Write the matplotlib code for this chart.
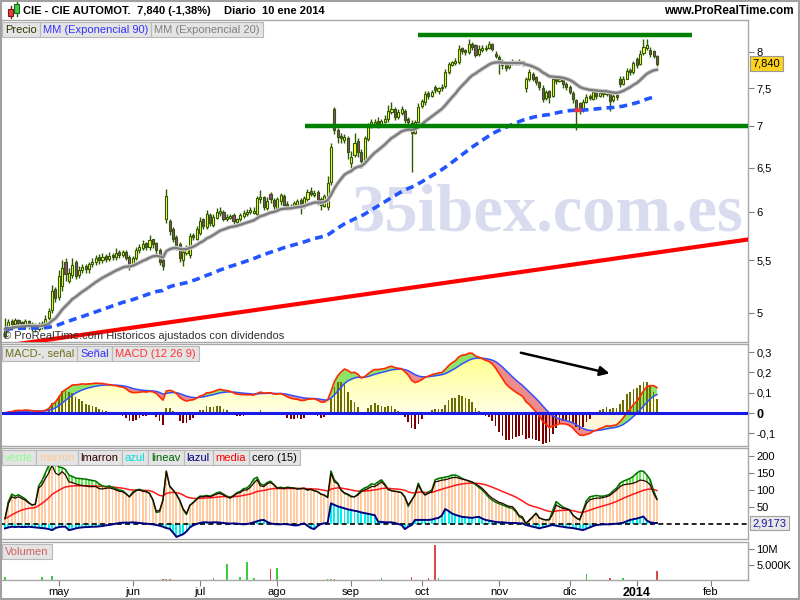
import numpy as np
import pandas as pd
import matplotlib
matplotlib.use("Agg")
import matplotlib.pyplot as plt
from matplotlib.patches import Rectangle
from matplotlib.ticker import NullLocator
from matplotlib.path import Path
from matplotlib.colors import LinearSegmentedColormap
from matplotlib.transforms import blended_transform_factory as btf

plt.rcParams['font.family'] = ['Liberation Sans', 'DejaVu Sans']

# ---------------- data ----------------
title_name = "CIE - CIE AUTOMOT."
title_price = "7,840 (-1,38%)"
title_period = "Diario  10 ene 2014"

opens = [
    4.80, 4.86, 4.93, 4.90, 4.94, 4.92, 4.88, 4.93, 4.90, 4.89,
    4.86, 4.88, 4.90, 4.96, 5.03, 5.22, 5.15, 5.25, 5.48, 5.30,
    5.36, 5.48, 5.36, 5.40, 5.44, 5.41, 5.46, 5.48, 5.53, 5.50,
    5.54, 5.51, 5.55, 5.53, 5.58, 5.55, 5.58, 5.53, 5.46, 5.52,
    5.60, 5.62, 5.67, 5.63, 5.71, 5.67, 5.60, 5.50, 5.93, 5.90,
    5.82, 5.74, 5.66, 5.50, 5.57, 5.55, 5.76, 5.72, 5.78, 5.92,
    5.84, 5.97, 5.86, 5.94, 5.99, 6.00, 5.92, 5.94, 5.97, 5.89,
    5.93, 5.96, 5.98, 6.00, 5.99, 5.98, 6.14, 6.16, 6.04, 6.20,
    6.13, 6.04, 6.12, 6.18, 6.09, 6.05, 6.06, 6.08, 6.13, 6.07,
    6.14, 6.23, 6.19, 6.22, 6.14, 6.07, 6.05, 6.33, 7.23, 6.95,
    6.88, 6.83, 6.85, 6.55, 6.65, 6.82, 6.68, 6.58, 6.84, 7.00,
    7.03, 7.07, 7.01, 7.06, 7.09, 7.19, 7.23, 7.12, 7.17, 7.20,
    7.09, 7.04, 6.92, 7.06, 7.26, 7.31, 7.44, 7.40, 7.52, 7.46,
    7.50, 7.53, 7.72, 7.82, 7.85, 7.86, 8.06, 8.03, 8.00, 8.12,
    8.10, 7.97, 8.04, 8.05, 8.07, 8.12, 7.98, 7.94, 7.86, 7.82,
    7.79, 7.84, 7.87, 7.85, 7.87, 7.50, 7.62, 7.70, 7.65, 7.58,
    7.50, 7.37, 7.46, 7.40, 7.62, 7.60, 7.62, 7.56, 7.52, 7.44,
    7.34, 7.30, 7.21, 7.32, 7.39, 7.36, 7.45, 7.40, 7.44, 7.42,
    7.45, 7.34, 7.41, 7.63, 7.56, 7.63, 7.75, 7.72, 7.90, 7.83,
    7.99, 8.07, 8.04, 8.02, 7.95]

closes = [
    4.86, 4.92, 4.90, 4.94, 4.91, 4.89, 4.93, 4.90, 4.88, 4.87,
    4.89, 4.91, 4.95, 5.02, 5.20, 5.14, 5.35, 5.42, 5.37, 5.38,
    5.45, 5.35, 5.40, 5.43, 5.41, 5.46, 5.48, 5.52, 5.50, 5.53,
    5.51, 5.54, 5.53, 5.57, 5.55, 5.58, 5.52, 5.45, 5.52, 5.60,
    5.63, 5.66, 5.63, 5.70, 5.66, 5.60, 5.48, 5.44, 6.18, 5.80,
    5.72, 5.65, 5.52, 5.58, 5.62, 5.75, 5.74, 5.82, 5.90, 5.85,
    5.98, 5.88, 5.95, 6.00, 6.01, 5.93, 5.95, 5.96, 5.90, 5.92,
    5.97, 5.99, 6.00, 6.02, 6.01, 6.15, 6.16, 6.05, 6.12, 6.14,
    6.06, 6.14, 6.19, 6.08, 6.06, 6.07, 6.10, 6.12, 6.08, 6.15,
    6.22, 6.20, 6.21, 6.12, 6.08, 6.17, 6.32, 6.75, 6.95, 6.87,
    6.85, 6.87, 6.68, 6.62, 6.80, 6.68, 6.58, 6.85, 7.00, 7.05,
    7.06, 7.00, 7.07, 7.10, 7.20, 7.22, 7.12, 7.18, 7.22, 7.08,
    7.05, 6.92, 7.05, 7.25, 7.33, 7.42, 7.40, 7.45, 7.47, 7.50,
    7.52, 7.72, 7.83, 7.86, 7.88, 8.05, 8.02, 8.00, 8.12, 8.08,
    7.96, 8.05, 8.06, 8.07, 8.12, 8.05, 7.95, 7.86, 7.82, 7.78,
    7.84, 7.86, 7.85, 7.86, 7.84, 7.62, 7.72, 7.63, 7.58, 7.52,
    7.36, 7.45, 7.38, 7.62, 7.60, 7.63, 7.55, 7.52, 7.45, 7.35,
    7.22, 7.20, 7.32, 7.38, 7.37, 7.45, 7.40, 7.43, 7.42, 7.45,
    7.33, 7.40, 7.38, 7.55, 7.62, 7.74, 7.72, 7.85, 7.82, 7.98,
    8.08, 8.10, 7.97, 7.95, 7.84]

highs = [
    4.96, 4.95, 4.95, 4.96, 4.95, 4.93, 4.95, 4.94, 4.92, 4.91,
    4.92, 4.93, 4.98, 5.05, 5.26, 5.24, 5.40, 5.50, 5.52, 5.42,
    5.52, 5.50, 5.44, 5.46, 5.46, 5.48, 5.52, 5.55, 5.56, 5.57,
    5.56, 5.58, 5.57, 5.62, 5.60, 5.60, 5.60, 5.55, 5.54, 5.63,
    5.66, 5.70, 5.68, 5.76, 5.72, 5.68, 5.62, 5.52, 6.25, 5.93,
    5.84, 5.76, 5.68, 5.62, 5.65, 5.78, 5.78, 5.85, 5.95, 5.94,
    6.02, 5.99, 5.98, 6.04, 6.05, 6.02, 5.98, 5.98, 5.99, 5.94,
    5.99, 6.02, 6.03, 6.05, 6.05, 6.18, 6.24, 6.18, 6.16, 6.22,
    6.15, 6.16, 6.21, 6.20, 6.12, 6.09, 6.12, 6.14, 6.15, 6.18,
    6.25, 6.28, 6.24, 6.24, 6.16, 6.20, 6.40, 6.80, 7.25, 6.98,
    6.92, 6.90, 6.88, 6.70, 6.92, 6.85, 6.72, 6.88, 7.04, 7.10,
    7.10, 7.12, 7.10, 7.14, 7.28, 7.32, 7.25, 7.22, 7.26, 7.22,
    7.12, 7.08, 7.08, 7.30, 7.36, 7.46, 7.46, 7.48, 7.54, 7.52,
    7.55, 7.76, 7.86, 7.88, 7.92, 8.10, 8.08, 8.05, 8.20, 8.15,
    8.12, 8.10, 8.10, 8.10, 8.16, 8.14, 8.02, 7.96, 7.90, 7.84,
    7.88, 7.90, 7.88, 7.90, 7.88, 7.65, 7.76, 7.72, 7.66, 7.60,
    7.54, 7.48, 7.48, 7.66, 7.66, 7.66, 7.64, 7.58, 7.54, 7.46,
    7.36, 7.32, 7.35, 7.42, 7.42, 7.48, 7.48, 7.46, 7.46, 7.48,
    7.47, 7.45, 7.44, 7.66, 7.66, 7.78, 7.78, 7.88, 7.94, 8.04,
    8.20, 8.20, 8.08, 8.04, 7.96]

lows = [
    4.78, 4.84, 4.86, 4.88, 4.88, 4.86, 4.87, 4.86, 4.84, 4.83,
    4.84, 4.86, 4.88, 4.94, 5.00, 5.10, 5.12, 5.20, 5.30, 5.28,
    5.33, 5.32, 5.33, 5.38, 5.38, 5.38, 5.43, 5.45, 5.46, 5.47,
    5.48, 5.49, 5.50, 5.50, 5.52, 5.53, 5.50, 5.40, 5.44, 5.50,
    5.57, 5.60, 5.60, 5.60, 5.62, 5.55, 5.45, 5.40, 5.88, 5.76,
    5.68, 5.60, 5.48, 5.44, 5.55, 5.52, 5.70, 5.70, 5.76, 5.82,
    5.82, 5.85, 5.84, 5.92, 5.96, 5.90, 5.90, 5.92, 5.86, 5.86,
    5.90, 5.94, 5.96, 5.98, 5.98, 5.96, 6.10, 6.02, 6.02, 6.10,
    6.02, 6.00, 6.08, 6.06, 6.03, 6.03, 6.04, 6.06, 5.98, 6.04,
    6.12, 6.18, 6.16, 6.08, 6.02, 6.05, 6.02, 6.30, 6.90, 6.80,
    6.80, 6.80, 6.60, 6.50, 6.62, 6.62, 6.50, 6.56, 6.82, 6.98,
    7.00, 6.98, 7.00, 7.04, 7.06, 7.16, 7.08, 7.10, 7.15, 7.04,
    7.00, 6.45, 6.90, 7.04, 7.24, 7.28, 7.36, 7.38, 7.44, 7.42,
    7.46, 7.50, 7.70, 7.80, 7.82, 7.84, 7.98, 7.96, 7.98, 8.04,
    7.94, 7.95, 8.00, 8.02, 8.05, 8.02, 7.92, 7.70, 7.76, 7.74,
    7.76, 7.82, 7.82, 7.82, 7.80, 7.45, 7.60, 7.60, 7.54, 7.48,
    7.32, 7.34, 7.30, 7.38, 7.56, 7.58, 7.50, 7.48, 7.42, 7.30,
    6.95, 7.16, 7.18, 7.30, 7.34, 7.34, 7.36, 7.38, 7.38, 7.40,
    7.20, 7.32, 7.34, 7.52, 7.54, 7.62, 7.68, 7.70, 7.78, 7.82,
    7.96, 8.04, 7.94, 7.92, 7.80]

volumes_m = [
    1.0, 0.1, 0.1, 0.1, 0.1, 0.1, 0.1, 0.1, 0.1, 0.1,
    0.1, 1.0, 0.1, 0.1, 1.2, 0.1, 0.1, 0.1, 0.1, 0.1,
    0.1, 0.1, 0.1, 0.1, 0.1, 0.1, 0.1, 0.1, 0.1, 0.1,
    0.1, 0.1, 0.1, 0.1, 0.1, 0.1, 0.1, 0.1, 0.1, 0.1,
    0.1, 0.1, 0.1, 0.1, 0.1, 0.1, 0.1, 0.2, 0.4, 0.2,
    0.1, 0.1, 0.1, 0.1, 0.1, 0.1, 0.1, 0.1, 0.1, 0.1,
    0.1, 0.1, 0.8, 0.1, 0.1, 0.1, 5.2, 0.1, 0.1, 0.1,
    1.0, 0.1, 5.9, 0.1, 0.8, 0.1, 0.1, 0.1, 0.1, 3.5,
    0.1, 4.0, 0.1, 0.1, 0.1, 0.1, 0.1, 0.1, 0.1, 0.1,
    0.1, 0.1, 0.1, 0.1, 0.1, 0.1, 0.2, 0.3, 0.2, 0.1,
    0.1, 0.1, 0.1, 0.1, 0.1, 0.1, 0.1, 0.1, 0.1, 0.1,
    0.1, 0.1, 0.8, 0.1, 0.1, 0.1, 0.1, 0.1, 0.1, 0.1,
    0.1, 1.0, 0.1, 0.1, 0.1, 0.1, 0.8, 0.1, 11.3, 0.8,
    0.1, 0.1, 0.1, 0.1, 0.1, 0.1, 0.1, 0.1, 0.1, 0.1,
    0.1, 0.1, 0.1, 0.1, 0.1, 0.1, 0.1, 0.1, 0.1, 0.1,
    0.1, 0.1, 0.1, 0.1, 0.1, 0.1, 0.1, 0.1, 0.1, 0.1,
    0.1, 0.1, 0.1, 0.1, 0.1, 0.1, 0.1, 0.1, 0.1, 0.1,
    0.1, 0.1, 0.1, 2.0, 0.1, 0.1, 0.1, 0.1, 0.1, 0.1,
    0.8, 0.1, 0.1, 0.1, 0.7, 0.1, 0.1, 0.1, 0.1, 0.1,
    0.1, 0.1, 0.1, 0.1, 3.0]

lmarron = [
    16, 60, 80, 76, 80, 75, 70, 62, 56, 58,
    105, 115, 134, 150, 173, 150, 144, 154, 144, 124,
    122, 118, 115, 113, 112, 110, 110, 110, 104, 103,
    105, 106, 104, 100, 96, 95, 88, 80, 90, 98,
    100, 96, 95, 90, 72, 38, 40, 70, 154, 110,
    100, 88, 70, 45, 31, 55, 62, 72, 80, 80,
    82, 80, 84, 88, 90, 85, 80, 76, 82, 90,
    92, 100, 100, 108, 120, 130, 112, 110, 118, 122,
    115, 105, 106, 104, 107, 106, 105, 103, 104, 105,
    100, 102, 98, 95, 88, 85, 78, 149, 124, 118,
    100, 92, 88, 82, 80, 85, 95, 100, 104, 110,
    110, 116, 124, 114, 102, 98, 96, 95, 92, 80,
    56, 70, 85, 115, 95, 85, 90, 95, 124, 126,
    129, 130, 133, 136, 137, 135, 132, 130, 127, 124,
    118, 112, 105, 95, 84, 76, 70, 64, 61, 56,
    52, 51, 40, 25, 21, 2, 12, 21, 31, 18,
    14, 12, 12, 30, 56, 50, 46, 44, 41, 26,
    18, 12, 36, 60, 71, 74, 76, 76, 78, 80,
    84, 92, 100, 110, 115, 117, 118, 120, 124, 129,
    128, 124, 115, 90, 72]

lineav = [
    16, 66, 88, 82, 86, 80, 74, 64, 56, 58,
    112, 128, 150, 172, 185, 176, 168, 166, 160, 144,
    140, 135, 134, 133, 132, 130, 128, 126, 118, 112,
    110, 112, 108, 104, 100, 98, 90, 80, 94, 100,
    102, 98, 96, 90, 70, 34, 36, 72, 156, 112,
    100, 86, 68, 42, 28, 55, 64, 74, 82, 82,
    84, 82, 86, 92, 94, 88, 82, 78, 84, 92,
    96, 104, 106, 116, 132, 138, 118, 114, 122, 126,
    116, 106, 108, 106, 108, 107, 106, 104, 104, 105,
    100, 102, 98, 95, 88, 85, 78, 156, 130, 120,
    100, 90, 86, 80, 80, 88, 100, 106, 110, 118,
    116, 124, 130, 118, 102, 98, 96, 95, 92, 78,
    52, 70, 88, 120, 98, 86, 94, 100, 130, 134,
    136, 138, 140, 144, 144, 140, 134, 130, 126, 122,
    116, 108, 100, 90, 78, 70, 64, 60, 56, 52,
    48, 46, 36, 22, 16, 0, 10, 20, 32, 18,
    14, 12, 14, 40, 66, 58, 50, 46, 42, 26,
    18, 12, 40, 68, 80, 82, 84, 82, 82, 84,
    88, 98, 106, 120, 126, 130, 134, 140, 150, 156,
    155, 144, 130, 98, 74]

lazul = [
    -13, -10, -8, -9, -8, -9, -9, -8, -9, -10,
    -11, -12, -13, -15, -18, -12, -9, -8, -8, -18,
    -16, -13, -11, -10, -9, -9, -8, -8, -7, -6,
    -4, -3, -1, 1, 3, 4, 4, 4, 5, 4,
    3, 2, 1, 0, -1, -3, -5, -8, -12, -14,
    -25, -38, -34, -30, -22, -10, -4, 0, 3, 5,
    5, 4, 5, 5, 4, 3, 2, 1, 2, 1,
    0, -1, 0, 2, 5, 8, 11, 12, 6, 2,
    0, -1, -1, 0, -1, -2, -4, -4, -1, 2,
    -5, -12, -15, -6, 0, 2, 3, 61, 56, 52,
    49, 46, 43, 41, 39, 37, 34, 32, 30, 28,
    26, 7, 6, 5, 5, 5, 3, 0, -3, -15,
    -8, -3, 12, 12, 12, 12, 12, 13, 16, 18,
    25, 44, 38, 31, 27, 24, 21, 20, 19, 18,
    20, 21, 16, 12, 10, 8, 6, 5, 5, 4,
    3, 3, 3, 2, 2, -3, -5, -8, -10, -13,
    -10, -8, -5, -3, -5, -7, -8, -10, -11, -12,
    -14, -16, -18, -14, -10, -6, -3, -2, -1, -1,
    -1, 0, 1, 2, 4, 8, 12, 14, 16, 19,
    22, 10, 5, 3, 2.9173]

month_labels = ['may', 'jun', 'jul', 'ago', 'sep', 'oct', 'nov', 'dic', '2014', 'feb']
price_ticks = [5, 5.5, 6, 6.5, 7, 7.5, 8]
price_ticklabels = ['5', '5,5', '6', '6,5', '7', '7,5', '8']
macd_ticks = [-0.1, 0, 0.1, 0.2, 0.3]
macd_ticklabels = ['-0,1', '0', '0,1', '0,2', '0,3']
ind_ticks = [50, 100, 150, 200]
vol_ticks = [5, 10]
vol_ticklabels = ['5.000K', '10M']

# drawn annotations (bar index, price)
resistance = [(123, 8.25), (204.5, 8.25)]
support = [(89.3, 7.01), (221.1, 7.01)]
trend = [(-1.5, 4.708), (221.1, 5.71)]
macd_arrow = [(152.7, 0.30), (180.7, 0.192)]

# ---------------- derived series ----------------
o = np.array(opens); c = np.array(closes)
h = np.maximum(np.array(highs), np.maximum(o, c))
l = np.minimum(np.array(lows), np.minimum(o, c))
n = len(c)
idx = np.arange(n)
cs = pd.Series(c)
ema20 = cs.ewm(span=20, adjust=False).mean().values
ema90 = cs.ewm(span=90, adjust=False).mean().values
macd = (cs.ewm(span=12, adjust=False).mean() - cs.ewm(span=26, adjust=False).mean()).values
signal = pd.Series(macd).ewm(span=9, adjust=False).mean().values
hist = 2 * (macd - signal)
lm = np.array(lmarron, float); lv = np.array(lineav, float); lz = np.array(lazul, float)
media = pd.Series(lm).ewm(span=18, adjust=False).mean().values
vol = np.array(volumes_m)

days = pd.bdate_range('2013-04-09', '2014-02-28')
hol = pd.to_datetime(['2013-05-01', '2013-12-25', '2013-12-26', '2014-01-01'])
days = days[~days.isin(hol)]
per = days.to_period('M')
month_idx = [int(np.argmax(per == p)) for p in per.unique()[1:]]

# ---------------- figure ----------------
W, H = 800, 600
fig = plt.figure(figsize=(8, 6), dpi=100)
fig.patch.set_facecolor('white')

def pax(x0, y0, x1, y1):
    return fig.add_axes([x0 / W, 1 - y1 / H, (x1 - x0) / W, (y1 - y0) / H])

XL = (-1.5, 221.1)
GRAY = '#A8A8A8'

def style(ax):
    ax.set_xlim(*XL)
    for s in ax.spines.values():
        s.set_color(GRAY); s.set_linewidth(1)
    ax.yaxis.tick_right()
    ax.tick_params(axis='y', which='major', direction='out', length=4, width=0.8,
                   color='#808080', labelsize=8, pad=2, labelcolor='black')
    ax.tick_params(axis='x', which='both', bottom=False, labelbottom=False)
    ax.yaxis.set_minor_locator(NullLocator())
    ax.xaxis.set_minor_locator(NullLocator())

# ---- price panel ----
axp = pax(0, 20, 748, 342)
axp.set_yscale('log')
axp.set_ylim(4.747, 8.48)
style(axp)
axp.set_yticks(price_ticks)
axp.set_yticklabels(price_ticklabels)
axp.yaxis.set_minor_locator(NullLocator())

axp.text(0.731, 0.396, '35ibex.com.es', transform=axp.transAxes, ha='center', va='center',
         fontsize=48, family='Liberation Serif', fontweight='bold', color='#D9DCEF', zorder=0.5)

up = c >= o
body_col = np.where(up, '#FFFF44', '#9C3C9C')
axp.vlines(idx, l, h, color='#2E5A00', lw=1, zorder=3)
axp.bar(idx, np.maximum(np.abs(c - o), 0.006), bottom=np.minimum(o, c), width=0.62,
        color=body_col, edgecolor='#2E5A00', linewidth=0.8, zorder=4)

axp.plot(idx, ema20, color='#D2D2D2', lw=3.2, zorder=5, solid_capstyle='round')
axp.plot(idx, ema20, color='#7C7C7C', lw=1.7, zorder=5.1)
axp.plot(idx, ema90, color='#2255FF', lw=2.6, dashes=(2.2, 1.4), zorder=5)
dec = np.diff(ema90) < 0
for k in np.where(dec)[0]:
    axp.plot([k, k + 1], [ema90[k], ema90[k + 1]], color='#FF3030', lw=2.6, zorder=5.2)

(rx0, ry0), (rx1, ry1) = resistance
axp.plot([rx0, rx1], [ry0, ry1], color='#008000', lw=3.2, zorder=6, solid_capstyle='butt')
(sx0, sy0), (sx1, sy1) = support
axp.plot([sx0, sx1], [sy0, sy1], color='#008000', lw=3.2, zorder=6, solid_capstyle='butt')
(tx0, ty0), (tx1, ty1) = trend
axp.plot([tx0, tx1], [ty0, ty1], color='#FF0000', lw=3.0, zorder=6)

axp.text(0.004, 0.02, '© ProRealTime.com Historicos ajustados con dividendos', transform=axp.transAxes,
         ha='left', va='center', fontsize=8, color='#303030', zorder=10)

axp.text(1.006, c[-1], f'{c[-1]:.3f}'.replace('.', ','), transform=btf(axp.transAxes, axp.transData),
         ha='left', va='center', fontsize=8, color='black', zorder=12, clip_on=False,
         bbox=dict(boxstyle='square,pad=0.22', fc='#FFD21E', ec='#999999', lw=0.8))

# ---- MACD panel ----
axm = pax(0, 344, 748, 446)
axm.set_ylim(-0.1626, 0.340)
style(axm)
axm.set_yticks(macd_ticks)
axm.set_yticklabels(macd_ticklabels)
for t in axm.get_yticklabels():
    if t.get_text() == '0':
        t.set_fontweight('bold'); t.set_fontsize(9)

low_pos = np.clip(np.minimum(macd, signal), 0, None)
poly = axm.fill_between(idx, 0, low_pos, color='none', lw=0)
cmap = LinearSegmentedColormap.from_list('yl', ['#FFFFE6', '#FFFF78'])
grad = np.linspace(0, 1, 256).reshape(-1, 1)
im = axm.imshow(grad, extent=[XL[0], XL[1], 0, 0.34], origin='lower', aspect='auto',
                cmap=cmap, zorder=1, interpolation='bilinear')
im.set_clip_path(Path.make_compound_path(*poly.get_paths()), transform=axm.transData)
high_neg = np.clip(np.maximum(macd, signal), None, 0)
axm.fill_between(idx, 0, high_neg, color='#FFF6DA', lw=0, zorder=1)
axm.fill_between(idx, signal, macd, where=macd >= signal, interpolate=True, color='#8EE266', lw=0, zorder=2)
axm.fill_between(idx, signal, macd, where=macd < signal, interpolate=True, color='#EC8C8C', lw=0, zorder=2)
hcol = np.where(hist >= 0, '#6E6E00', '#7A0000')
axm.bar(idx, hist, width=0.5, color=hcol, zorder=3)
axm.plot(idx, signal, color='#3050FF', lw=1.1, zorder=4)
axm.plot(idx, macd, color='#FF2A00', lw=1.2, zorder=4)
axm.axhline(0, color='#1A1AE6', lw=2.2, zorder=5)
axm.set_xlim(*XL)
(ax0, ay0), (ax1, ay1) = macd_arrow
axm.annotate('', xy=(ax1, ay1), xytext=(ax0, ay0),
             arrowprops=dict(arrowstyle='-|>', color='black', lw=1.8, mutation_scale=14), zorder=8)

# ---- custom indicator panel ----
axi = pax(0, 448, 748, 539)
axi.set_ylim(-44.1, 223.5)
style(axi)
axi.set_yticks(ind_ticks)
axi.set_yticklabels([str(v) for v in ind_ticks])
axi.bar(idx, lm, width=0.55, color='#FFCBA0', zorder=1)
gmask = lv > lm
axi.bar(idx[gmask], (lv - lm)[gmask], bottom=lm[gmask], width=0.55, color='#5EE84A', zorder=1.5)
axi.bar(idx, lz, width=0.55, color='#00F0F0', zorder=1.5)
axi.axhline(0, color='black', lw=1.2, dashes=(3, 2), zorder=2)
axi.plot(idx, lz, color='#000080', lw=1.4, zorder=3)
axi.plot(idx, media, color='#FF1A1A', lw=1.1, zorder=3)
axi.plot(idx, lm, color='#300000', lw=0.9, zorder=3.2)
axi.plot(idx, lv, color='#006E00', lw=1.1, zorder=3.1)
axi.text(1.006, lz[-1], f'{lz[-1]:.4f}'.replace('.', ','), transform=btf(axi.transAxes, axi.transData),
         ha='left', va='center', fontsize=8, color='#1A1AA0', zorder=12, clip_on=False,
         bbox=dict(boxstyle='square,pad=0.22', fc='#E8E8E8', ec='#A0A0A0', lw=0.8))

# ---- volume panel ----
axv = pax(0, 542, 748, 580)
axv.set_ylim(0, 12.26)
style(axv)
axv.set_yticks(vol_ticks)
axv.set_yticklabels(vol_ticklabels)
vcol = np.where(up, '#3CCB3C', '#D94A4A')
axv.bar(idx, vol, width=0.5, color=vcol, zorder=2)
axv.set_xticks(month_idx[:len(month_labels)])
axv.set_xticklabels(month_labels)
axv.tick_params(axis='x', which='major', bottom=True, labelbottom=True, direction='out', length=4,
                width=0.8, color='#808080', labelsize=8, pad=1)
for t in axv.get_xticklabels():
    if t.get_text() == '2014':
        t.set_fontweight('bold'); t.set_fontsize(9)

# ---- header ----
fig.text(23 / W, 1 - 11 / H, title_name, fontsize=8, fontweight='bold', va='center', ha='left')
fig.text(137 / W, 1 - 11 / H, title_price, fontsize=8, fontweight='bold', va='center', ha='left')
fig.text(224 / W, 1 - 11 / H, title_period, fontsize=8, fontweight='bold', va='center', ha='left')
fig.text(794 / W, 1 - 11 / H, 'www.ProRealTime.com', fontsize=8.5, fontweight='bold', va='center', ha='right')

def frect(x0, y0, x1, y1, fc, ec, lw=0.8, z=20):
    fig.add_artist(Rectangle((x0 / W, 1 - y1 / H), (x1 - x0) / W, (y1 - y0) / H,
                             transform=fig.transFigure, fc=fc, ec=ec, lw=lw, zorder=z))

def fline(x0, y0, x1, y1, col, lw=1, z=20):
    fig.add_artist(plt.Line2D([x0 / W, x1 / W], [1 - y0 / H, 1 - y1 / H], transform=fig.transFigure,
                              color=col, lw=lw, zorder=z))

# candle icon
fline(10.5, 6, 10.5, 18, '#7A1A1A'); frect(8, 9, 13, 16, '#E04040', '#7A1A1A')
fline(16.5, 2, 16.5, 16, '#1A6A1A'); frect(14, 4, 19, 13, '#44CC44', '#1A6A1A')

rend = fig.canvas.get_renderer()

def legend_row(items, ytop, x0=2, hgt=15, fs=8):
    x = x0
    for lab, col in items:
        t = fig.text((x + 3) / W, 1 - (ytop + hgt / 2 + 0.5) / H, lab, color=col, fontsize=fs,
                     va='center', ha='left', zorder=22)
        w = t.get_window_extent(renderer=rend).width + 6
        frect(x, ytop, x + w, ytop + hgt, '#E4E4E4', '#B8B8B8', z=21)
        x += w

legend_row([('Precio', '#333300'), ('MM (Exponencial 90)', '#3333FF'), ('MM (Exponencial 20)', '#808080')], 22)
legend_row([('MACD-, señal', '#707020'), ('Señal', '#3333FF'), ('MACD (12 26 9)', '#FF3333')], 346)
legend_row([('verde', '#88FF88'), ('marron', '#FFC896'), ('lmarron', '#330000'), ('azul', '#00E0E0'),
            ('lineav', '#006600'), ('lazul', '#000080'), ('media', '#FF0000'), ('cero (15)', '#000000')], 450)
legend_row([('Volumen', '#D06060')], 544)

fig.add_artist(Rectangle((0.001, 0.001), 0.998, 0.998, transform=fig.transFigure, fill=False,
                         ec='#A0A0A0', lw=1.5, zorder=30))

fig.savefig('out.png', dpi=100)
